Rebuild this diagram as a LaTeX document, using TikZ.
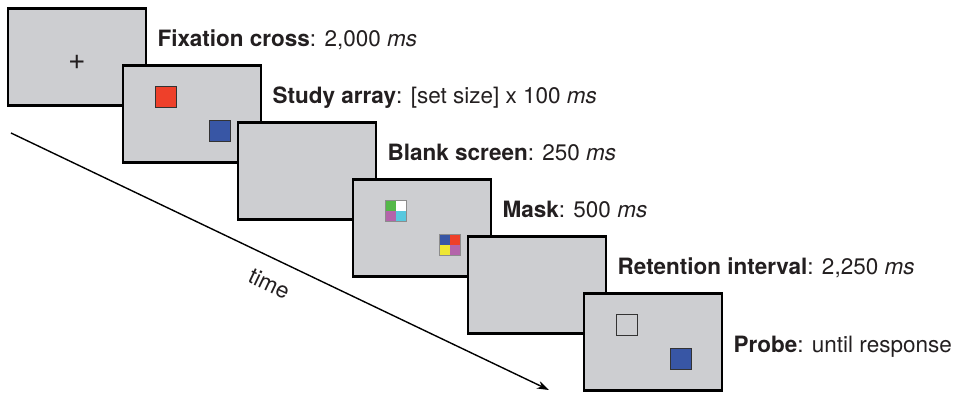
\documentclass[tikz,border=0pt]{standalone}
\usepackage{fontspec}
\setmainfont{TeX Gyre Heros}
\usetikzlibrary{arrows.meta,calc,positioning}

\definecolor{screengray}{RGB}{205,206,209}
\definecolor{textdark}{RGB}{35,31,32}
\definecolor{patchred}{RGB}{238,64,42}
\definecolor{patchblue}{RGB}{56,86,165}
\definecolor{patchgreen}{RGB}{84,184,72}
\definecolor{patchmagenta}{RGB}{180,100,170}
\definecolor{patchcyan}{RGB}{88,200,222}
\definecolor{patchyellow}{RGB}{238,230,50}

\begin{document}
\begin{tikzpicture}[
  x=1pt, y=1pt,
  screen/.style={
    draw,
    line width=2.8pt,
    fill=screengray,
    minimum width=138pt,
    minimum height=97pt,
    inner sep=0pt
  },
  patch/.style={
    draw=black!80,
    line width=0.6pt,
    minimum size=21pt,
    inner sep=0pt
  },
  quad/.style n args={4}{
    patch,
    draw=black!45,
    path picture={
      \fill[#1] (path picture bounding box.north west) rectangle (path picture bounding box.center);
      \fill[#2] (path picture bounding box.north east) rectangle (path picture bounding box.center);
      \fill[#3] (path picture bounding box.south west) rectangle (path picture bounding box.center);
      \fill[#4] (path picture bounding box.south east) rectangle (path picture bounding box.center);
    }
  },
  lbl/.style={
    text=textdark,
    font=\fontsize{22.5}{27}\selectfont,
    inner sep=0pt,
    anchor=base west
  },
  timeline/.style={line width=1.4pt, -{Stealth[length=12pt,width=8pt]}}
]

\useasboundingbox (0,0) rectangle (956,-395);

% time axis
\coordinate (t0) at (11,-133);
\coordinate (t1) at (549,-390);
\draw[timeline] (t0) -- (t1)
  node[pos=0.5, sloped, below=16pt, inner sep=0pt, text=textdark,
       font=\fontsize{22.5}{27}\selectfont] (time) {time};

% fixation
\node[screen] (s1) at (77,-57) {};
\node[inner sep=0pt, text=textdark, font=\fontsize{30}{34}\selectfont]
  (fix) at ($(s1.center)+(0,-5)$) {+};
\node[lbl] (l1) at ($(s1.north east)+(10,-39)$)
  {\textbf{Fixation cross}: 2,000 \textit{ms}};

% study array
\node[screen] (s2) at (192,-114) {};
\node[patch, fill=patchred] (s2a) at ($(s2.north west)+(44,-33)$) {};
\node[patch, fill=patchblue] (s2b) at ($(s2.north west)+(98,-67)$) {};
\node[lbl] (l2) at ($(s2.north east)+(10,-39)$)
  {\textbf{Study array}: [set size] x 100 \textit{ms}};

% blank
\node[screen] (s3) at (307,-171) {};
\node[lbl] (l3) at ($(s3.north east)+(10,-39)$)
  {\textbf{Blank screen}: 250 \textit{ms}};

% mask
\node[screen] (s4) at (422,-228) {};
\node[quad={patchgreen}{white}{patchmagenta}{patchcyan}]
  (s4a) at ($(s4.north west)+(44,-33)$) {};
\node[quad={patchblue}{patchred}{patchyellow}{patchmagenta}]
  (s4b) at ($(s4.north west)+(98,-67)$) {};
\node[lbl] (l4) at ($(s4.north east)+(10,-39)$)
  {\textbf{Mask}: 500 \textit{ms}};

% retention
\node[screen] (s5) at (537,-285) {};
\node[lbl] (l5) at ($(s5.north east)+(10,-39)$)
  {\textbf{Retention interval}: 2,250 \textit{ms}};

% probe
\node[screen] (s6) at (653,-342) {};
\node[patch, fill=screengray] (s6a) at ($(s6.north west)+(44,-33)$) {};
\node[patch, fill=patchblue] (s6b) at ($(s6.north west)+(98,-67)$) {};
\node[lbl] (l6) at ($(s6.north east)+(10,-60)$)
  {\textbf{Probe}: until response};

\end{tikzpicture}
\end{document}
